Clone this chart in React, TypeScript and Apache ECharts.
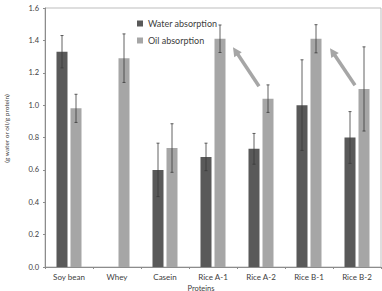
import React, { useEffect, useRef } from "react";
import * as echarts from "echarts";

// Proteins compared
const categories = ["Soy bean", "Whey", "Casein", "Rice A-1", "Rice A-2", "Rice B-1", "Rice B-2"];

// Mean absorption (g water or oil / g protein) and its standard deviation
const waterAbsorption = [1.33, null, 0.6, 0.68, 0.73, 1.0, 0.8];
const waterError = [0.1, null, 0.165, 0.085, 0.095, 0.28, 0.16];
const oilAbsorption = [0.98, 1.29, 0.735, 1.41, 1.04, 1.41, 1.1];
const oilError = [0.087, 0.15, 0.15, 0.085, 0.085, 0.087, 0.26];

// y-axis ticks
const yTicks = { min: 0, max: 1.6, interval: 0.2 };

const DARK = "#595959";
const LIGHT = "#a6a6a6";
const FONT = "Lato, 'Open Sans', sans-serif";
const BAR_W = 11;
const BAR_GAP = 3;

// Annotation arrows: [tail category, tail value] -> [head category, head value], with pixel nudges
const arrowSpecs = [
  { from: ["Rice A-2", 1.117], fromDx: -2, to: ["Rice A-1", 1.358], toDx: 20 },
  { from: ["Rice B-2", 1.123], fromDx: -2, to: ["Rice B-1", 1.352], toDx: 21 },
];

function errorBars(values: (number | null)[], errors: (number | null)[], side: number) {
  const data = values.map((v, i) => [i, v, errors[i]]);
  return {
    type: "custom",
    z: 5,
    silent: true,
    data: data.filter((d) => d[1] != null && d[2] != null),
    renderItem: (params: any, api: any) => {
      const idx = api.value(0);
      const v = api.value(1);
      const e = api.value(2);
      const top = api.coord([idx, v + e]);
      const bot = api.coord([idx, v - e]);
      const x = top[0] + side * (BAR_W + BAR_GAP) / 2;
      const cap = 1.5;
      const style = { stroke: "#3a3a3a", lineWidth: 0.8 };
      return {
        type: "group",
        children: [
          { type: "line", shape: { x1: x, y1: top[1], x2: x, y2: bot[1] }, style },
          { type: "line", shape: { x1: x - cap, y1: top[1], x2: x + cap, y2: top[1] }, style },
          { type: "line", shape: { x1: x - cap, y1: bot[1], x2: x + cap, y2: bot[1] }, style },
        ],
      };
    },
  };
}

export default function App() {
  const ref = useRef<HTMLDivElement>(null);

  useEffect(() => {
    if (!ref.current) return;
    const chart = echarts.init(ref.current, undefined, { renderer: "svg" });
    const option: any = {
      animation: false,
      backgroundColor: "#fff",
      grid: {
        left: 45,
        right: 1,
        top: 8,
        bottom: 24,
        containLabel: false,
        outerBoundsMode: "none",
        show: true,
        borderColor: "#bdbdbd",
        borderWidth: 1,
      },
      legend: {
        orient: "vertical",
        left: 132,
        top: 14,
        itemWidth: 6,
        itemHeight: 6,
        itemGap: 8,
        icon: "rect",
        textStyle: { fontFamily: FONT, fontSize: 9, color: "#404040" },
        data: ["Water absorption", "Oil absorption"],
      },
      xAxis: {
        type: "category",
        data: categories,
        name: "Proteins",
        nameLocation: "middle",
        nameGap: 17,
        nameMoveOverlap: false,
        nameTextStyle: {
          fontFamily: FONT,
          fontSize: 7.5,
          lineHeight: 8,
          color: "#404040",
          padding: [0, 24, 0, 0],
        },
        axisLine: { lineStyle: { color: "#8c8c8c" } },
        axisTick: { show: true, length: 2, lineStyle: { color: "#8c8c8c" } },
        axisLabel: { fontFamily: FONT, fontSize: 8, lineHeight: 8, color: "#404040", margin: 6 },
      },
      yAxis: {
        type: "value",
        min: yTicks.min,
        max: yTicks.max,
        interval: yTicks.interval,
        name: "(g water or oil/g protein)",
        nameLocation: "middle",
        nameGap: 35,
        nameMoveOverlap: false,
        nameTextStyle: { fontFamily: FONT, fontSize: 6.5, color: "#404040", padding: [0, 0, 0, 18] },
        axisLine: { show: true, lineStyle: { color: "#8c8c8c" } },
        axisTick: { show: true, length: 2, lineStyle: { color: "#8c8c8c" } },
        splitLine: { show: false },
        axisLabel: {
          fontFamily: FONT,
          fontSize: 7.5,
          color: "#404040",
          margin: 6,
          formatter: (v: number) => v.toFixed(1),
        },
      },
      series: [
        {
          name: "Water absorption",
          type: "bar",
          data: waterAbsorption,
          barWidth: BAR_W,
          barGap: `${(BAR_GAP / BAR_W) * 100}%`,
          itemStyle: { color: DARK },
        },
        {
          name: "Oil absorption",
          type: "bar",
          data: oilAbsorption,
          barWidth: BAR_W,
          itemStyle: { color: LIGHT },
        },
        errorBars(waterAbsorption, waterError, -1),
        errorBars(oilAbsorption, oilError, 1),
      ],
    };
    chart.setOption(option);

    // Arrow annotations placed through the axes' own scales
    const graphics = arrowSpecs.map((a) => {
      const p0 = chart.convertToPixel({ gridIndex: 0 }, a.from) as number[];
      const p1 = chart.convertToPixel({ gridIndex: 0 }, a.to) as number[];
      const x0 = p0[0] + a.fromDx;
      const y0 = p0[1];
      const x1 = p1[0] + a.toDx;
      const y1 = p1[1];
      const dx = x1 - x0;
      const dy = y1 - y0;
      const len = Math.hypot(dx, dy);
      const ux = dx / len;
      const uy = dy / len;
      const headLen = 9;
      const headHalf = 4.5;
      const bx = x1 - ux * headLen;
      const by = y1 - uy * headLen;
      return {
        type: "group",
        silent: true,
        children: [
          {
            type: "line",
            shape: { x1: x0, y1: y0, x2: bx + ux, y2: by + uy },
            style: { stroke: LIGHT, lineWidth: 3.5 },
          },
          {
            type: "polygon",
            shape: {
              points: [
                [x1, y1],
                [bx - uy * headHalf, by + ux * headHalf],
                [bx + uy * headHalf, by - ux * headHalf],
              ],
            },
            style: { fill: LIGHT },
          },
        ],
      };
    });
    chart.setOption({ graphic: graphics });

    return () => chart.dispose();
  }, []);

  return <div ref={ref} style={{ width: 382, height: 291, position: "absolute", left: 0, top: 0 }} />;
}
